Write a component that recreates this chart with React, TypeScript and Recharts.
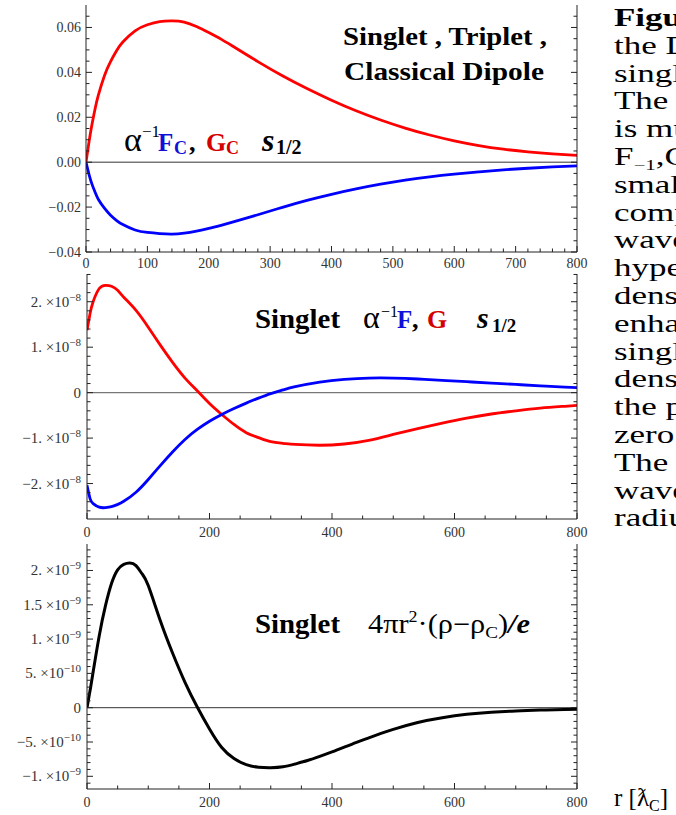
import React from "react";
import { LineChart, Line, XAxis, YAxis, ReferenceLine } from "recharts";

const FONT = "'Liberation Serif', 'DejaVu Serif', serif";
const FRAME = "#222";
const TICKC = "#333";
const RED = "#ff0000";
const BLUE = "#0000ff";

// top panel: Coulomb functions, r in reduced Compton wavelengths
const r1 = [0, 5, 10, 15, 20, 30, 40, 50, 60, 80, 100, 120, 140, 160, 180, 200, 220, 240, 280, 320, 360, 400, 440, 480, 520, 560, 600, 640, 680, 720, 760, 800];
const gC = [0, 0.0092, 0.0172, 0.024, 0.0297, 0.0385, 0.0448, 0.0497, 0.0535, 0.0585, 0.0612, 0.0626, 0.0629, 0.0624, 0.0604, 0.0577, 0.0548, 0.0515, 0.0448, 0.0385, 0.0328, 0.0276, 0.0229, 0.0188, 0.0152, 0.0121, 0.0095, 0.0074, 0.0058, 0.0046, 0.0037, 0.003];
const fC = [0, -0.0055, -0.01, -0.0135, -0.0165, -0.0205, -0.0236, -0.026, -0.0278, -0.0302, -0.0313, -0.0318, -0.032, -0.0316, -0.0307, -0.0295, -0.0281, -0.0266, -0.0234, -0.0201, -0.017, -0.0143, -0.0119, -0.0098, -0.008, -0.0065, -0.0053, -0.0043, -0.0034, -0.0027, -0.0021, -0.0016];

// middle panel: singlet F, G (units of 1e-8)
const r2 = [0, 5, 10, 20, 30, 40, 50, 60, 80, 100, 120, 140, 160, 180, 200, 220, 240, 260, 280, 300, 320, 340, 380, 420, 460, 500, 540, 580, 620, 660, 700, 740, 780, 800];
const gS = [1.37, 1.74, 2.0, 2.29, 2.36, 2.34, 2.25, 2.1, 1.81, 1.44, 1.04, 0.66, 0.32, 0.04, -0.24, -0.48, -0.7, -0.88, -0.99, -1.08, -1.115, -1.14, -1.158, -1.13, -1.05, -0.92, -0.79, -0.67, -0.56, -0.47, -0.4, -0.34, -0.3, -0.28];
const fS = [-2.04, -2.33, -2.44, -2.52, -2.53, -2.51, -2.46, -2.39, -2.19, -1.91, -1.6, -1.3, -1.03, -0.81, -0.63, -0.48, -0.35, -0.23, -0.12, -0.02, 0.06, 0.13, 0.23, 0.29, 0.32, 0.32, 0.3, 0.27, 0.24, 0.21, 0.18, 0.15, 0.12, 0.11];

// bottom panel: singlet 4 pi r^2 (rho - rho_C)/e (units of 1e-9)
const r3 = [0, 5, 10, 20, 30, 40, 50, 60, 70, 80, 90, 100, 120, 140, 160, 180, 200, 220, 240, 260, 280, 300, 320, 340, 360, 380, 400, 420, 440, 460, 480, 500, 540, 580, 620, 660, 700, 740, 780, 800];
const rhoS = [0, 0.25, 0.52, 1.05, 1.48, 1.81, 2.01, 2.09, 2.11, 2.07, 1.95, 1.78, 1.26, 0.79, 0.37, 0.01, -0.31, -0.58, -0.74, -0.83, -0.868, -0.875, -0.862, -0.82, -0.77, -0.71, -0.645, -0.575, -0.505, -0.44, -0.375, -0.315, -0.215, -0.145, -0.097, -0.066, -0.047, -0.035, -0.027, -0.024];

const x1Major = [0, 100, 200, 300, 400, 500, 600, 700, 800];
const x23Major = [0, 200, 400, 600, 800];
const y1Major = [-0.04, -0.02, 0, 0.02, 0.04, 0.06];
const y1Labels = ["−0.04", "−0.02", "0.00", "0.02", "0.04", "0.06"];
const y2Major = [-2, -1, 0, 1, 2];
const y2Mant = ["−2.", "−1.", "0", "1.", "2."];
const y2Exp = ["−8", "−8", "", "−8", "−8"];
const y3Major = [-1, -0.5, 0, 0.5, 1, 1.5, 2];
const y3Mant = ["−1.", "−5.", "0", "5.", "1.", "1.5", "2."];
const y3Exp = ["−9", "−10", "", "−10", "−9", "−9", "−9"];

const textLines = ["Figure", "the Dirac", "singlet", "The", "is much", "", "small", "component", "wave", "hyperfine", "density", "enhanced", "singlet", "density", "the proton", "zero", "The", "wave", "radius"];

function steps(a: number, b: number, d: number) {
  const out: number[] = [];
  for (let k = 0; a + k * d <= b + 1e-9; k++) out.push(+(a + k * d).toFixed(6));
  return out;
}

type Side = "bottom" | "left" | "top" | "right";
type LabelFn = (i: number, x: number, y: number) => React.ReactNode;

function makeTick(side: Side, majors: number[], labelFor?: LabelFn) {
  return (p: any) => {
    const { x, y, payload } = p;
    const v = payload.value;
    const idx = majors.findIndex((m) => Math.abs(m - v) < 1e-6);
    const len = idx >= 0 ? 6 : 3.5;
    const dx = side === "left" ? len : side === "right" ? -len : 0;
    const dy = side === "bottom" ? -len : side === "top" ? len : 0;
    return (
      <g>
        <line x1={x} y1={y} x2={x + dx} y2={y + dy} stroke={FRAME} strokeWidth={1} />
        {idx >= 0 && labelFor ? labelFor(idx, x, y) : null}
      </g>
    );
  };
}

const xLabel = (majors: number[], dy: number): LabelFn => (i, x, y) => (
  <text x={x} y={y + dy} textAnchor="middle" fontSize={14} fill={TICKC} fontFamily={FONT}>
    {majors[i]}
  </text>
);

const y1Label: LabelFn = (i, x, y) => (
  <text x={x - 5} y={y + 5} textAnchor="end" fontSize={14} fill={TICKC} fontFamily={FONT}>
    {y1Labels[i]}
  </text>
);

const expLabel = (mant: string[], exp: string[]): LabelFn => (i, x, y) => (
  <text x={x - 6} y={y + 5} textAnchor="end" fontSize={15} fill={TICKC} fontFamily={FONT}>
    {mant[i]}
    {exp[i] ? " ×10" : ""}
    {exp[i] ? (
      <tspan dy={-6} fontSize={11}>
        {exp[i]}
      </tspan>
    ) : null}
  </text>
);

function frameAxes(o: {
  xTicks: number[];
  xMajor: number[];
  xH: number;
  xDy: number;
  yDomain: [number, number];
  yTicks: number[];
  yMajor: number[];
  yW: number;
  yLab: LabelFn;
}) {
  const common = { tickSize: 0, tickMargin: 0, interval: 0 as const, axisLine: { stroke: FRAME }, tickLine: false, allowDataOverflow: true };
  return [
    <XAxis key="xb" dataKey="r" type="number" domain={[0, 800]} ticks={o.xTicks} height={o.xH} tick={makeTick("bottom", o.xMajor, xLabel(o.xMajor, o.xDy))} {...common} />,
    <XAxis key="xt" xAxisId="t" orientation="top" dataKey="r" type="number" domain={[0, 800]} ticks={o.xTicks} height={0} tick={makeTick("top", o.xMajor)} {...common} />,
    <YAxis key="yl" type="number" domain={o.yDomain} ticks={o.yTicks} width={o.yW} tick={makeTick("left", o.yMajor, o.yLab)} {...common} />,
    <YAxis key="yr" yAxisId="r" orientation="right" type="number" domain={o.yDomain} ticks={o.yTicks} width={23} tick={makeTick("right", o.yMajor)} {...common} />,
  ];
}

export default function App() {
  const data1 = r1.map((r, i) => ({ r, g: gC[i], f: fC[i] }));
  const data2 = r2.map((r, i) => ({ r, g: gS[i], f: fS[i] }));
  const data3 = r3.map((r, i) => ({ r, rho: rhoS[i] }));

  return (
    <div style={{ position: "absolute", left: 0, top: 0, width: 676, height: 815, overflow: "hidden", background: "#fff", fontFamily: FONT }}>
      <div style={{ position: "absolute", left: 0, top: 0 }}>
        <LineChart width={600} height={275} data={data1} margin={{ top: 5, right: 0, bottom: 0, left: 0 }}>
          {frameAxes({ xTicks: steps(0, 800, 20), xMajor: x1Major, xH: 23, xDy: 16, yDomain: [-0.04, 0.07], yTicks: steps(-0.04, 0.065, 0.005), yMajor: y1Major, yW: 86, yLab: y1Label })}
          <ReferenceLine y={0} stroke="#333" strokeWidth={1} />
          <Line type="natural" dataKey="g" stroke={RED} strokeWidth={2.8} dot={false} isAnimationActive={false} />
          <Line type="natural" dataKey="f" stroke={BLUE} strokeWidth={2.8} dot={false} isAnimationActive={false} />
        </LineChart>
      </div>
      <div style={{ position: "absolute", left: 0, top: 262 }}>
        <LineChart width={600} height={280} data={data2} margin={{ top: 12, right: 0, bottom: 0, left: 0 }}>
          {frameAxes({ xTicks: steps(0, 800, 50), xMajor: x23Major, xH: 23, xDy: 18, yDomain: [-2.78, 2.61], yTicks: steps(-2.6, 2.6, 0.2), yMajor: y2Major, yW: 87, yLab: expLabel(y2Mant, y2Exp) })}
          <ReferenceLine y={0} stroke="#777" strokeWidth={1.3} />
          <Line type="natural" dataKey="g" stroke={RED} strokeWidth={2.8} dot={false} isAnimationActive={false} />
          <Line type="natural" dataKey="f" stroke={BLUE} strokeWidth={2.8} dot={false} isAnimationActive={false} />
        </LineChart>
      </div>
      <div style={{ position: "absolute", left: 0, top: 532 }}>
        <LineChart width={600} height={283} data={data3} margin={{ top: 12, right: 0, bottom: 0, left: 0 }}>
          {frameAxes({ xTicks: steps(0, 800, 50), xMajor: x23Major, xH: 26, xDy: 18, yDomain: [-1.185, 2.386], yTicks: steps(-1.1, 2.3, 0.1), yMajor: y3Major, yW: 87, yLab: expLabel(y3Mant, y3Exp) })}
          <ReferenceLine y={0} stroke="#333" strokeWidth={1} />
          <Line type="natural" dataKey="rho" stroke="#000" strokeWidth={3} dot={false} isAnimationActive={false} />
        </LineChart>
      </div>

      <svg width={676} height={815} style={{ position: "absolute", left: 0, top: 0, pointerEvents: "none" }} fontFamily={FONT}>
        {/* top panel labels */}
        <text x={343} y={45} fontSize={26} fontWeight="bold" textLength={204} lengthAdjust="spacingAndGlyphs">Singlet , Triplet ,</text>
        <text x={344} y={80} fontSize={26} fontWeight="bold" textLength={200} lengthAdjust="spacingAndGlyphs">Classical Dipole</text>
        <text x={124} y={151} fontSize={34}>α</text>
        <text x={142} y={137} fontSize={17}>−1</text>
        <text x={158} y={151} fontSize={25} fontWeight="bold" fill="#1010d8">F</text>
        <text x={174} y={154} fontSize={18} fontWeight="bold" fill="#1010d8">C</text>
        <text x={189} y={151} fontSize={26} fontWeight="bold">,</text>
        <text x={206} y={151} fontSize={26} fontWeight="bold" fill="#d40000">G</text>
        <text x={226} y={154} fontSize={18} fontWeight="bold" fill="#d40000">C</text>
        <text x={262} y={151} fontSize={32} fontWeight="bold" fontStyle="italic">s</text>
        <text x={276} y={154} fontSize={20} fontWeight="bold">1/2</text>

        {/* middle panel labels */}
        <text x={255} y={328} fontSize={27} fontWeight="bold" textLength={85} lengthAdjust="spacingAndGlyphs">Singlet</text>
        <text x={363} y={328} fontSize={32}>α</text>
        <text x={381} y={317} fontSize={16}>−1</text>
        <text x={397} y={328} fontSize={25} fontWeight="bold" fill="#1010d8">F</text>
        <text x={412} y={328} fontSize={26} fontWeight="bold">,</text>
        <text x={427} y={328} fontSize={26} fontWeight="bold" fill="#d40000">G</text>
        <text x={477} y={328} fontSize={30} fontWeight="bold" fontStyle="italic">s</text>
        <text x={492} y={332} fontSize={19} fontWeight="bold">1/2</text>

        {/* bottom panel labels */}
        <text x={255} y={633} fontSize={27} fontWeight="bold" textLength={85} lengthAdjust="spacingAndGlyphs">Singlet</text>
        <text x={368} y={633} fontSize={27} textLength={162} lengthAdjust="spacingAndGlyphs">
          4πr<tspan dy={-11} fontSize={16}>2</tspan>
          <tspan dy={11}>·(ρ−ρ</tspan>
          <tspan dy={5} fontSize={17}>C</tspan>
          <tspan dy={-5}>)</tspan>
          <tspan fontWeight="bold" fontStyle="italic">/e</tspan>
        </text>

        {/* caption column, clipped at the page edge */}
        <g transform="translate(614 0) scale(1.4 1)">
          {textLines.map((t, i) =>
            i === 5 ? (
              <text key={i} x={0} y={26 + i * 27.8} fontSize={25}>
                F<tspan dy={5} fontSize={15}>−1</tspan>
                <tspan dy={-5}>,G</tspan>
                <tspan dy={5} fontSize={15}>−1</tspan>
              </text>
            ) : (
              <text key={i} x={0} y={26 + i * 27.8} fontSize={25} fontWeight={i === 0 ? "bold" : "normal"}>
                {t}
              </text>
            )
          )}
        </g>
        <text x={614} y={806} fontSize={25}>
          r [ƛ<tspan dy={5} fontSize={16}>C</tspan>
          <tspan dy={-5}>]</tspan>
        </text>
      </svg>
    </div>
  );
}
